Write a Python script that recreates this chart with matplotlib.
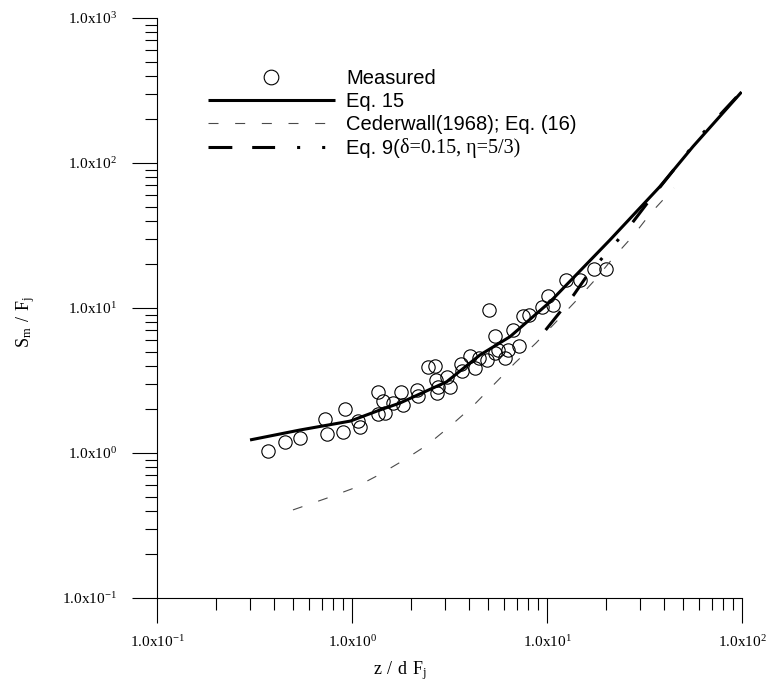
import matplotlib
matplotlib.use("Agg")
import matplotlib.pyplot as plt
from matplotlib.ticker import LogLocator, FixedLocator, NullFormatter

plt.rcParams['font.family'] = ['Liberation Serif', 'DejaVu Serif']

# ---- data ----
meas_x = [0.371, 0.453, 0.541, 0.727, 0.744, 0.921, 0.899, 1.073, 1.099, 1.359,
          1.442, 1.359, 1.476, 1.623, 1.783, 1.826, 2.154, 2.180, 2.453, 2.665,
          2.697, 2.761, 2.729, 3.070, 3.181, 3.622, 3.665, 4.029, 4.273, 4.480,
          4.923, 5.412, 5.607, 6.089, 5.412, 5.042, 6.310, 6.692, 7.183, 7.533,
          8.088, 9.428, 10.12, 10.73, 12.52, 14.76, 17.42, 20.07]
meas_y = [1.032, 1.191, 1.269, 1.716, 1.352, 2.011, 1.396, 1.662, 1.511, 2.634,
          2.284, 1.858, 1.888, 2.212, 2.634, 2.143, 2.720, 2.473, 3.919, 3.981,
          3.187, 2.852, 2.593, 3.343, 2.852, 4.110, 3.677, 4.667, 3.857, 4.521,
          4.379, 4.894, 5.132, 4.521, 6.411, 9.687, 5.132, 7.051, 5.470, 8.807,
          8.948, 10.16, 12.10, 10.49, 15.60, 15.60, 18.58, 18.58]

eq15_x = [0.30, 0.54, 0.98, 1.39, 1.76, 3.06, 4.53, 6.46, 10.35, 21.0, 37.9, 56.1, 99.5]
eq15_y = [1.23, 1.44, 1.66, 1.98, 2.21, 3.10, 4.74, 6.34, 11.0, 29.4, 68.7, 130.0, 309.0]

ced_x = [0.498, 0.736, 1.01, 1.37, 1.85, 2.44, 3.22, 4.17, 6.85, 8.79, 11.0, 13.9,
         17.6, 21.8, 27.6, 34.1, 44.8]
ced_y = [0.405, 0.486, 0.569, 0.705, 0.895, 1.14, 1.55, 2.11, 4.18, 5.74, 7.89, 11.0,
         15.6, 22.1, 31.4, 45.2, 67.3]

eq9_x = [9.84, 11.9, 13.7, 16.0, 19.4, 23.1, 27.3, 33.0, 63.1, 98.0]
eq9_y = [7.05, 9.7, 12.3, 16.6, 22.5, 29.4, 38.5, 53.8, 161.0, 304.0]

xtick_vals = [0.1, 1.0, 10.0, 100.0]
xtick_labels = [r'$\mathregular{1.0x10^{-1}}$', r'$\mathregular{1.0x10^{0}}$',
                r'$\mathregular{1.0x10^{1}}$', r'$\mathregular{1.0x10^{2}}$']
ytick_vals = [0.1, 1.0, 10.0, 100.0, 1000.0]
ytick_labels = [r'$\mathregular{1.0x10^{-1}}$', r'$\mathregular{1.0x10^{0}}$',
                r'$\mathregular{1.0x10^{1}}$', r'$\mathregular{1.0x10^{2}}$',
                r'$\mathregular{1.0x10^{3}}$']

labels = ['Measured', 'Eq. 15', 'Cederwall(1968); Eq. (16)', 'Eq. 9(']
eq9_extra = 'δ=0.15, η=5/3)'

# ---- figure ----
W, H = 769, 688
fig = plt.figure(figsize=(W / 100, H / 100), dpi=100)
ax = fig.add_axes([157 / W, 1 - 598 / H, 585 / W, 580 / H])
ax.set_xscale('log')
ax.set_yscale('log')
ax.set_xlim(0.1, 100)
ax.set_ylim(0.1, 1000)

h_meas, = ax.plot(meas_x, meas_y, linestyle='none', marker='o', markersize=9.6,
                  markerfacecolor='none', markeredgecolor='black', markeredgewidth=0.8,
                  label=labels[0])
h15, = ax.plot(eq15_x, eq15_y, color='black', lw=2.2, solid_capstyle='butt', label=labels[1])
hced, = ax.plot(ced_x, ced_y, color='#4a4a4a', lw=0.8, linestyle=(0, (9, 15)), label=labels[2])
h9, = ax.plot(eq9_x, eq9_y, color='black', lw=2.2,
              linestyle=(0, (7.8, 6.5, 7.5, 7.2, 1.0, 7.2, 1.0, 7.2)), label=labels[3])

for s in ['top', 'right']:
    ax.spines[s].set_visible(False)
for s in ['left', 'bottom']:
    ax.spines[s].set_linewidth(0.8)

ax.xaxis.set_major_locator(FixedLocator(xtick_vals))
ax.set_xticklabels(xtick_labels)
ax.yaxis.set_major_locator(FixedLocator(ytick_vals))
ax.set_yticklabels(ytick_labels)
ax.xaxis.set_minor_locator(LogLocator(base=10, subs=range(2, 10)))
ax.yaxis.set_minor_locator(LogLocator(base=10, subs=range(2, 10)))
ax.xaxis.set_minor_formatter(NullFormatter())
ax.yaxis.set_minor_formatter(NullFormatter())
ax.tick_params(which='major', direction='out', length=18, width=0.8, labelsize=11)
ax.tick_params(which='minor', direction='out', length=8.6, width=0.8)
ax.tick_params(axis='y', which='major', pad=11)
ax.tick_params(axis='x', which='major', pad=8)

ax.set_xlabel(r'$\mathregular{z\ /\ d\ F_j}$', fontsize=13)
ax.set_ylabel(r'$\mathregular{S_m\ /\ F_j}$', fontsize=13)
ax.xaxis.set_label_coords((400 - 157) / 585, -0.105)
ax.yaxis.set_label_coords(-0.205, 0.475)

leg = ax.legend(handles=[h_meas, h15, hced, h9], labels=labels,
                loc='upper left', bbox_to_anchor=(208 / W, 1 - 69 / H),
                bbox_transform=fig.transFigure, frameon=False,
                prop={'family': 'Liberation Sans', 'size': 14.5},
                handlelength=6.3, handletextpad=0.55, labelspacing=0.21,
                borderpad=0, borderaxespad=0, numpoints=1, markerscale=1.1)

fig.canvas.draw()
t9 = leg.get_texts()[3]
bb = t9.get_window_extent()
fig.text(bb.x1 / W, bb.y0 / H, eq9_extra, fontsize=14.5, family='Liberation Serif',
         ha='left', va='bottom')

fig.savefig('out.png', dpi=100)
